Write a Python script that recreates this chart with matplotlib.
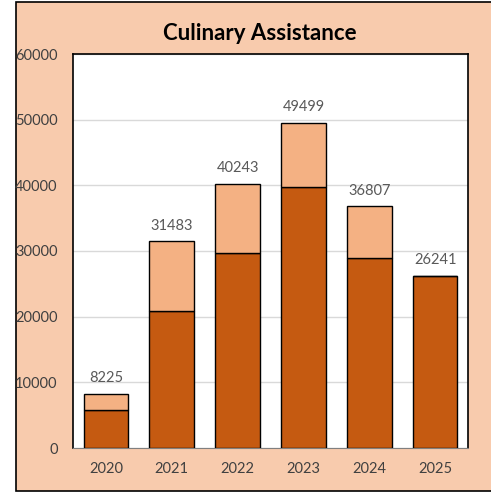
import matplotlib.pyplot as plt
from matplotlib.patches import Rectangle
import numpy as np

years = ['2020', '2021', '2022', '2023', '2024', '2025']
base = [5800, 20900, 29700, 39800, 28900, 26241]
totals = [8225, 31483, 40243, 49499, 36807, 26241]
top = [t - b for t, b in zip(totals, base)]

dark = '#C55A11'
light = '#F4B183'
peach = '#F8CBAD'

plt.rcParams['font.family'] = ['Lato', 'DejaVu Sans']

fig = plt.figure(figsize=(4.91, 4.93), dpi=100, facecolor='white')

# outer chart frame
frame = Rectangle((16 / 491, 2 / 493), 1.0, 489 / 493, transform=fig.transFigure,
                  facecolor=peach, edgecolor='black', linewidth=1.2, zorder=-10)
fig.add_artist(frame)

ax = fig.add_axes([73 / 491, 45 / 493, 395 / 491, 394 / 493])
ax.set_zorder(1)
ax.set_facecolor('white')

x = np.arange(len(years))
w = 0.68
ax.bar(x, base, width=w, color=dark, edgecolor='black', linewidth=1, zorder=3)
ax.bar(x, top, bottom=base, width=w, color=light, edgecolor='black', linewidth=1, zorder=3)

for xi, t in zip(x, totals):
    ax.text(xi, t + 1300, str(t), ha='center', va='bottom', fontsize=10.5, color='#595959')

ax.set_xlim(-0.5, len(years) - 0.5)
ax.set_ylim(0, 60000)
ax.set_yticks(range(0, 60001, 10000))
ax.set_yticklabels([str(v) for v in range(0, 60001, 10000)], fontsize=10.5, color='#404040')
ax.set_xticks(x)
ax.set_xticklabels(years, fontsize=10.5, color='#404040')
ax.tick_params(axis='x', length=0, pad=10)
ax.tick_params(axis='y', length=0, pad=11)

ax.grid(axis='y', color='#D9D9D9', linewidth=1, zorder=0)
ax.set_axisbelow(True)
for side in ['left', 'right', 'top']:
    ax.spines[side].set_color('black')
    ax.spines[side].set_linewidth(1.2)
ax.spines['bottom'].set_color('#808080')

fig.text(260 / 491, 1 - 33 / 493, 'Culinary Assistance', ha='center', va='center',
         fontsize=16, fontweight='bold', color='black')

fig.savefig('out.png', dpi=100, facecolor=fig.get_facecolor())
